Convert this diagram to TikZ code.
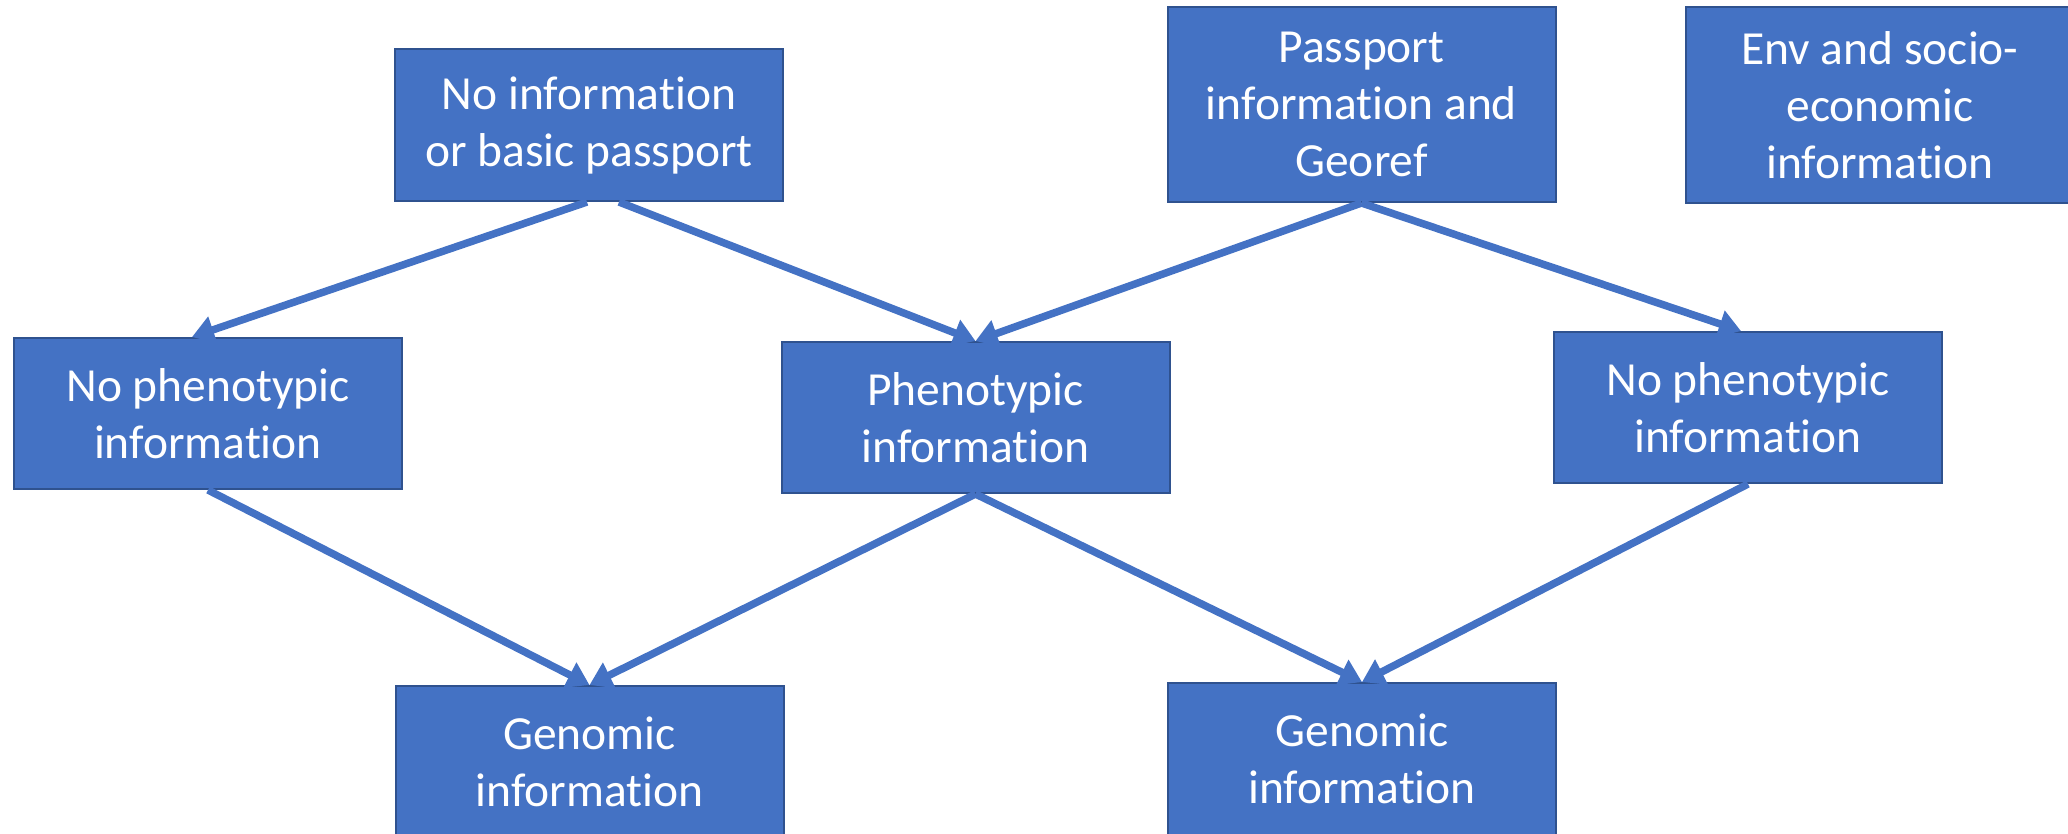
\documentclass[tikz,border=0pt]{standalone}
\usepackage{fontspec}
\setmainfont{Carlito}[Ligatures={NoCommon,NoContextual},Contextuals=NoAlternate,RawFeature={-liga;-clig;-calt}]
\usetikzlibrary{arrows.meta}
\definecolor{boxfill}{HTML}{4472C4}
\definecolor{boxedge}{HTML}{2F528F}
\definecolor{linkcol}{HTML}{4472C4}
\tikzset{
  infobox/.style={rectangle, draw=boxedge, line width=2pt, fill=boxfill,
    text=white, align=center, inner sep=0pt,
    minimum width=388pt, minimum height=152pt,
    font=\fontsize{47.5}{57}\selectfont},
  link/.style={draw=linkcol, line width=7.5pt,
    -{Triangle[length=22pt,width=27pt]}}
}
\begin{document}
\begin{tikzpicture}[x=1pt,y=-1pt]
\useasboundingbox (0,0) rectangle (2068,833);
% top row
\node[infobox] (info) at (589,125) {No information\\or basic passport};
\node[infobox, minimum height=195pt] (pass) at (1361.5,104.5) {Passport\\information and\\Georef};
\node[infobox, minimum height=196pt] (env) at (1880,105) {Env and socio-\\economic\\information};
% middle row
\node[infobox, minimum height=151pt] (nl) at (208,413.5) {No phenotypic\\information};
\node[infobox, minimum height=151pt] (ph) at (975.5,417.5) {Phenotypic\\information};
\node[infobox, minimum height=151pt] (nr) at (1748,407.5) {No phenotypic\\information};
% bottom row
\node[infobox] (gl) at (589.5,762) {Genomic\\information};
\node[infobox] (gr) at (1362,759) {Genomic\\information};
% connectors
\draw[link] ([xshift=-2pt]info.south) -- ([xshift=-16pt]nl.north);
\draw[link] ([xshift=30pt]info.south) -- (ph.north);
\draw[link] (pass.south) -- (ph.north);
\draw[link] (pass.south) -- ([xshift=-7pt]nr.north);
\draw[link] (nl.south) -- (gl.north);
\draw[link] (ph.south) -- (gl.north);
\draw[link] (ph.south) -- (gr.north);
\draw[link] (nr.south) -- (gr.north);
\end{tikzpicture}
\end{document}
